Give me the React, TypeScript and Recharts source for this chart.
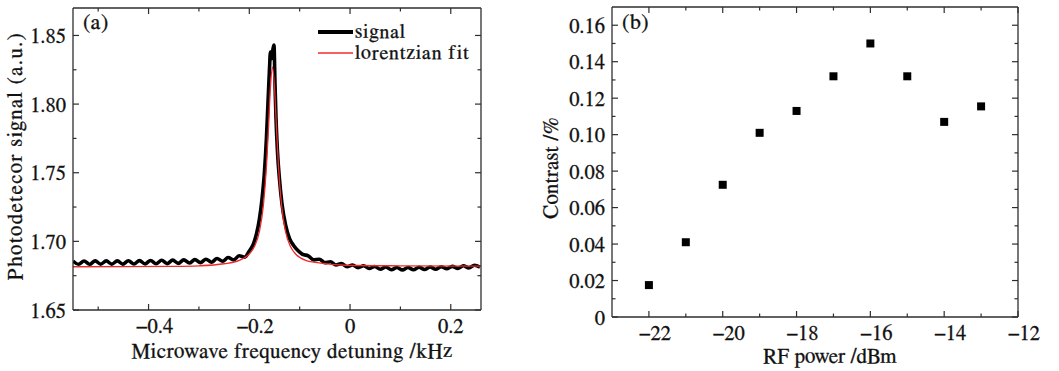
import { Legend, Line, LineChart, Scatter, ScatterChart, XAxis, YAxis, ZAxis } from "recharts";

const FONT = 'FreeSerif, "DejaVu Serif", serif';
const INK = "#2e2e2e";

// (a) photodetector signal vs detuning (kHz)
const signalX = [
  -0.55, -0.539, -0.528, -0.517, -0.506, -0.495, -0.484, -0.473, -0.462, -0.451, -0.44, -0.429, -0.418, -0.407,
  -0.396, -0.385, -0.374, -0.363, -0.352, -0.341, -0.33, -0.319, -0.308, -0.297, -0.286, -0.275, -0.264, -0.253,
  -0.242, -0.231, -0.22, -0.209, -0.2, -0.192, -0.186, -0.18, -0.175, -0.17, -0.166, -0.163, -0.16, -0.158, -0.156,
  -0.153, -0.151, -0.149, -0.147, -0.144, -0.14, -0.135, -0.128, -0.12, -0.112, -0.104, -0.094, -0.083, -0.072,
  -0.061, -0.05, -0.039, -0.028, -0.017, -0.006, 0.005, 0.016, 0.027, 0.038, 0.049, 0.06, 0.071, 0.082, 0.093,
  0.104, 0.115, 0.126, 0.137, 0.148, 0.159, 0.17, 0.181, 0.192, 0.203, 0.214, 0.225, 0.236, 0.247, 0.258,
];
const signalY = [
  1.6857, 1.6833, 1.6857, 1.6833, 1.6858, 1.6834, 1.6858, 1.6834, 1.6858, 1.6834, 1.6859, 1.6835, 1.686, 1.6836,
  1.6861, 1.6837, 1.6862, 1.6838, 1.6863, 1.684, 1.6865, 1.6842, 1.6867, 1.6845, 1.687, 1.6848, 1.6875, 1.6855,
  1.6882, 1.6865, 1.6895, 1.6885, 1.693, 1.698, 1.705, 1.716, 1.73, 1.75, 1.775, 1.8, 1.825, 1.838, 1.833,
  1.84, 1.843, 1.815, 1.79, 1.765, 1.745, 1.727, 1.712, 1.702, 1.697, 1.6935, 1.6905, 1.6895, 1.6865,
  1.687, 1.6845, 1.6852, 1.6828, 1.6838, 1.6815, 1.6828, 1.6808, 1.6822, 1.6802, 1.6817, 1.6797, 1.6813, 1.6793, 1.681,
  1.6792, 1.681, 1.6793, 1.6811, 1.6795, 1.6813, 1.6797, 1.6815, 1.68, 1.6818, 1.6803, 1.6822, 1.6807, 1.6826, 1.6812,
];
const fitX = [
  -0.55, -0.45, -0.35, -0.3, -0.25, -0.22, -0.2, -0.19, -0.18, -0.172, -0.166, -0.162, -0.158, -0.154, -0.15,
  -0.146, -0.142, -0.136, -0.128, -0.118, -0.108, -0.088, -0.058, -0.008, 0.1, 0.26,
];
const fitY = [
  1.6815, 1.6816, 1.6818, 1.6822, 1.6837, 1.6862, 1.6908, 1.696, 1.7071, 1.7263, 1.7543, 1.7823, 1.8125, 1.827, 1.8125,
  1.7823, 1.7543, 1.7263, 1.7071, 1.696, 1.6908, 1.6862, 1.6842, 1.6826, 1.6822, 1.682,
];
const legendOrder = ["signal", "lorentzian fit"];
const aXTicks = [-0.5, -0.4, -0.3, -0.2, -0.1, 0, 0.1, 0.2];
const aXMajors = [-0.4, -0.2, 0, 0.2];
const aYTicks = [1.65, 1.675, 1.7, 1.725, 1.75, 1.775, 1.8, 1.825, 1.85];
const aYMajors = [1.65, 1.7, 1.75, 1.8, 1.85];

// (b) contrast vs RF power
const rfPower = [-22, -21, -20, -19, -18, -17, -16, -15, -14, -13];
const contrast = [0.0175, 0.041, 0.0725, 0.101, 0.113, 0.132, 0.15, 0.132, 0.107, 0.1155];
const bXTicks = [-22, -21, -20, -19, -18, -17, -16, -15, -14, -13, -12];
const bXMajors = [-22, -20, -18, -16, -14, -12];
const bYTicks = [0, 0.01, 0.02, 0.03, 0.04, 0.05, 0.06, 0.07, 0.08, 0.09, 0.1, 0.11, 0.12, 0.13, 0.14, 0.15, 0.16];
const bYMajors = [0, 0.02, 0.04, 0.06, 0.08, 0.1, 0.12, 0.14, 0.16];

const signalData = signalX.map((x, i) => ({ x, y: signalY[i] }));
const fitData = fitX.map((x, i) => ({ x, y: fitY[i] }));
const contrastData = rfPower.map((x, i) => ({ x, y: contrast[i] }));

const isMajor = (majors: number[], v: number) => majors.some((m) => Math.abs(m - v) < 1e-9);
const minus = (s: string) => s.replace("-", "\u2212");

type Side = "bottom" | "top" | "left" | "right";

const tickText = { fontFamily: FONT, fontSize: 20.5, fill: "#111", stroke: "#111", strokeWidth: 0.3 };

// inward tick marks, labels only on majors
function makeTick(side: Side, majors: number[], fmt?: (v: number) => string) {
  return (props: any) => {
    const { x, y, payload } = props;
    const v = payload.value as number;
    const major = isMajor(majors, v);
    const len = major ? 6 : 3.5;
    let seg = { x1: x, y1: y, x2: x, y2: y };
    if (side === "bottom") seg = { x1: x, y1: y, x2: x, y2: y - len };
    if (side === "top") seg = { x1: x, y1: y, x2: x, y2: y + len };
    if (side === "left") seg = { x1: x, y1: y, x2: x + len, y2: y };
    if (side === "right") seg = { x1: x, y1: y, x2: x - len, y2: y };
    let label = null;
    if (fmt && major) {
      const text = fmt(v);
      label =
        side === "bottom" ? (
          <text x={x + (v < 0 ? 6 : 0)} y={y + 23} textAnchor="middle" {...tickText}>
            {text}
          </text>
        ) : (
          <text x={x - 7} y={y + 7.5} textAnchor="end" {...tickText}>
            {text}
          </text>
        );
    }
    return (
      <g>
        <line {...seg} stroke={INK} strokeWidth={1.2} />
        {label}
      </g>
    );
  };
}

const axisLine = { stroke: INK, strokeWidth: 1.3 };

function LegendBox(props: any) {
  const items = [...(props.payload || [])].sort(
    (a: any, b: any) => legendOrder.indexOf(a.value) - legendOrder.indexOf(b.value)
  );
  return (
    <div style={{ fontFamily: FONT, fontSize: 20, color: "#111", letterSpacing: 1, WebkitTextStroke: "0.3px #111" }}>
      {items.map((it: any) => (
        <div key={it.value} style={{ display: "flex", alignItems: "center", height: 21.6 }}>
          <svg width={37} height={10}>
            <line x1={0} x2={35} y1={5} y2={5} stroke={it.color} strokeWidth={it.value === "signal" ? 4 : 1.5} />
          </svg>
          <span>{it.value}</span>
        </div>
      ))}
    </div>
  );
}

const textBase = {
  position: "absolute" as const,
  fontFamily: FONT,
  color: "#111",
  whiteSpace: "nowrap" as const,
  WebkitTextStroke: "0.3px #111",
};

export default function App() {
  return (
    <div style={{ position: "absolute", left: 0, top: 0, width: 1059, height: 371, background: "#fff" }}>
      <div style={{ position: "absolute", left: 0, top: 0 }}>
        <LineChart width={520} height={371} margin={{ top: 7, right: 38, bottom: 60, left: 72 }}>
          <XAxis
            dataKey="x"
            type="number"
            domain={[-0.55, 0.26]}
            ticks={aXTicks}
            interval={0}
            height={1}
            tickSize={0}
            tickMargin={0}
            axisLine={axisLine}
            tickLine={false}
            tick={makeTick("bottom", aXMajors, (v) => minus(v === 0 ? "0" : String(v)))}
            allowDataOverflow
          />
          <XAxis
            xAxisId="top"
            orientation="top"
            dataKey="x"
            type="number"
            domain={[-0.55, 0.26]}
            ticks={aXTicks}
            interval={0}
            height={1}
            tickSize={0}
            tickMargin={0}
            axisLine={axisLine}
            tickLine={false}
            tick={makeTick("top", aXMajors)}
            allowDataOverflow
          />
          <YAxis
            type="number"
            domain={[1.65, 1.87]}
            ticks={aYTicks}
            interval={0}
            width={1}
            tickSize={0}
            tickMargin={0}
            axisLine={axisLine}
            tickLine={false}
            tick={makeTick("left", aYMajors, (v) => v.toFixed(2))}
            allowDataOverflow
          />
          <YAxis
            yAxisId="right"
            orientation="right"
            type="number"
            domain={[1.65, 1.87]}
            ticks={aYTicks}
            interval={0}
            width={1}
            tickSize={0}
            tickMargin={0}
            axisLine={axisLine}
            tickLine={false}
            tick={makeTick("right", aYMajors)}
            allowDataOverflow
          />
          <Legend
            layout="vertical"
            align="center"
            verticalAlign="middle"
            content={<LegendBox />}
            wrapperStyle={{ left: 318, top: 21, width: 180 }}
          />
          <Line
            data={signalData}
            dataKey="y"
            name="signal"
            type="monotone"
            stroke="#000"
            strokeWidth={3.6}
            dot={false}
            activeDot={false}
            isAnimationActive={false}
          />
          <Line
            data={fitData}
            dataKey="y"
            name="lorentzian fit"
            type="monotone"
            stroke="#f02a2a"
            strokeWidth={1.3}
            dot={false}
            activeDot={false}
            isAnimationActive={false}
          />
        </LineChart>
      </div>

      <div style={{ position: "absolute", left: 520, top: 0 }}>
        <ScatterChart width={539} height={371} margin={{ top: 6, right: 40, bottom: 53, left: 91 }}>
          <XAxis
            dataKey="x"
            type="number"
            domain={[-23, -12]}
            ticks={bXTicks}
            interval={0}
            height={1}
            tickSize={0}
            tickMargin={0}
            axisLine={axisLine}
            tickLine={false}
            tick={makeTick("bottom", bXMajors, (v) => minus(String(v)))}
            allowDataOverflow
          />
          <XAxis
            xAxisId="top"
            orientation="top"
            dataKey="x"
            type="number"
            domain={[-23, -12]}
            ticks={bXTicks}
            interval={0}
            height={1}
            tickSize={0}
            tickMargin={0}
            axisLine={axisLine}
            tickLine={false}
            tick={makeTick("top", bXMajors)}
            allowDataOverflow
          />
          <YAxis
            dataKey="y"
            type="number"
            domain={[0, 0.17]}
            ticks={bYTicks}
            interval={0}
            width={1}
            tickSize={0}
            tickMargin={0}
            axisLine={axisLine}
            tickLine={false}
            tick={makeTick("left", bYMajors, (v) => (v === 0 ? "0" : v.toFixed(2)))}
            allowDataOverflow
          />
          <YAxis
            yAxisId="right"
            orientation="right"
            dataKey="y"
            type="number"
            domain={[0, 0.17]}
            ticks={bYTicks}
            interval={0}
            width={1}
            tickSize={0}
            tickMargin={0}
            axisLine={axisLine}
            tickLine={false}
            tick={makeTick("right", bYMajors)}
            allowDataOverflow
          />
          <ZAxis range={[38, 38]} />
          <Scatter data={contrastData} shape="square" fill="#000" isAnimationActive={false} />
        </ScatterChart>
      </div>

      <div style={{ ...textBase, left: 83, top: 11, fontSize: 22, lineHeight: "22px", letterSpacing: 0.5 }}>(a)</div>
      <div style={{ ...textBase, left: 622, top: 11, fontSize: 22, lineHeight: "22px", letterSpacing: 0.5 }}>(b)</div>

      <div
        style={{ ...textBase, left: 292, top: 341, fontSize: 21, lineHeight: "21px", letterSpacing: 0.6, transform: "translateX(-50%)" }}
      >
        Microwave frequency detuning /kHz
      </div>
      <div style={{ ...textBase, left: 830, top: 346, fontSize: 21, lineHeight: "21px", transform: "translateX(-50%)" }}>
        RF power /dBm
      </div>
      <div
        style={{
          ...textBase,
          left: 15,
          top: 156,
          fontSize: 21,
          lineHeight: "21px",
          letterSpacing: 1.4,
          transform: "translate(-50%, -50%) rotate(-90deg)",
        }}
      >
        Photodetecor signal (a.u.)
      </div>
      <div
        style={{
          ...textBase,
          left: 551,
          top: 168,
          fontSize: 21,
          lineHeight: "21px",
          letterSpacing: 0.3,
          transform: "translate(-50%, -50%) rotate(-90deg)",
        }}
      >
        Contrast /%
      </div>
    </div>
  );
}
